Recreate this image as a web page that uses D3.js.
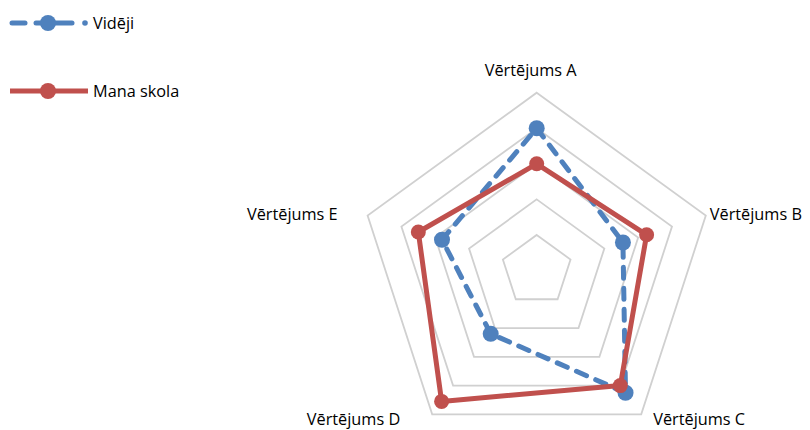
<!DOCTYPE html>
<html>
<head>
<meta charset="utf-8">
<script src="https://cdn.jsdelivr.net/npm/d3@7"></script>
<style>
  html, body { margin: 0; padding: 0; background: #fff; }
  svg text { font-family: "Open Sans", "Noto Sans", sans-serif; fill: #000; }
</style>
</head>
<body>
<svg id="chart" width="810" height="430"></svg>
<script>
// Radar axes, grid levels and the two series (0–100 scale)
const categories = ["Vērtējums A", "Vērtējums B", "Vērtējums C", "Vērtējums D", "Vērtējums E"];
const gridLevels = [20, 40, 60, 80, 100];
const seriesNames = ["Vidēji", "Mana skola"];
const videji = [80, 51, 85, 44, 56];
const manaSkola = [60, 65, 80, 91, 70];

const blue = "#4F81BD";
const red = "#C0504D";

const svg = d3.select("#chart");
const cx = 536.7, cy = 270.5, R = 177.8;

const r = d3.scaleLinear().domain([0, 100]).range([0, R]);
const angle = d3.scalePoint().domain(categories).range([0, 2 * Math.PI * (categories.length - 1) / categories.length]);

const g = svg.append("g").attr("transform", `translate(${cx},${cy})`);

const radial = d3.lineRadial()
  .angle(d => angle(d.cat))
  .radius(d => r(d.v))
  .curve(d3.curveLinearClosed);

// Pentagonal grid rings
g.selectAll("path.grid")
  .data(gridLevels)
  .join("path")
  .attr("class", "grid")
  .attr("d", lv => radial(categories.map(c => ({ cat: c, v: lv }))))
  .attr("fill", "none")
  .attr("stroke", "#D0D0D0")
  .attr("stroke-width", 1.8);

// Category labels at the outer ring
function pt(cat, v) {
  const a = angle(cat);
  return [r(v) * Math.sin(a), -r(v) * Math.cos(a)];
}
const labelPlace = {
  "Vērtējums A": { dx: -6, dy: -17, anchor: "middle" },
  "Vērtējums B": { dx: 4, dy: 4, anchor: "start" },
  "Vērtējums C": { dx: 12, dy: 11, anchor: "start" },
  "Vērtējums D": { dx: -32, dy: 11, anchor: "end" },
  "Vērtējums E": { dx: -30, dy: 4, anchor: "end" }
};
g.selectAll("text.cat")
  .data(categories)
  .join("text")
  .attr("class", "cat")
  .attr("x", c => pt(c, 100)[0] + labelPlace[c].dx)
  .attr("y", c => pt(c, 100)[1] + labelPlace[c].dy)
  .attr("text-anchor", c => labelPlace[c].anchor)
  .attr("font-size", 16.3)
  .text(c => c);

// Series
const series = [
  { name: seriesNames[0], values: videji, color: blue, dash: "11,10", cap: "round", rMark: 8 },
  { name: seriesNames[1], values: manaSkola, color: red, dash: null, cap: "butt", rMark: 7.5 }
];

series.forEach(s => {
  const pts = categories.map((c, i) => ({ cat: c, v: s.values[i] }));
  g.append("path")
    .attr("d", radial(pts))
    .attr("fill", "none")
    .attr("stroke", s.color)
    .attr("stroke-width", 5)
    .attr("stroke-linejoin", "round")
    .attr("stroke-linecap", s.cap)
    .attr("stroke-dasharray", s.dash);
  g.selectAll(null)
    .data(pts)
    .join("circle")
    .attr("cx", d => pt(d.cat, d.v)[0])
    .attr("cy", d => pt(d.cat, d.v)[1])
    .attr("r", s.rMark)
    .attr("fill", s.color);
});

// Legend
const legend = svg.append("g");
const legendY = d3.scalePoint().domain(seriesNames).range([23, 91]);
series.forEach(s => {
  const y = legendY(s.name);
  const lg = legend.append("g");
  if (s.dash) {
    lg.append("line").attr("x1", 12).attr("x2", 25).attr("y1", y).attr("y2", y)
      .attr("stroke", s.color).attr("stroke-width", 5).attr("stroke-linecap", "round");
    lg.append("line").attr("x1", 36).attr("x2", 72).attr("y1", y).attr("y2", y)
      .attr("stroke", s.color).attr("stroke-width", 5).attr("stroke-linecap", "round");
    lg.append("circle").attr("cx", 85).attr("cy", y).attr("r", 2.8).attr("fill", s.color);
  } else {
    lg.append("line").attr("x1", 10).attr("x2", 88).attr("y1", y).attr("y2", y)
      .attr("stroke", s.color).attr("stroke-width", 5);
  }
  lg.append("circle").attr("cx", 48).attr("cy", y).attr("r", 8).attr("fill", s.color);
  lg.append("text").attr("x", 93).attr("y", y + 6).attr("font-size", 16.3).text(s.name);
});
</script>
</body>
</html>
